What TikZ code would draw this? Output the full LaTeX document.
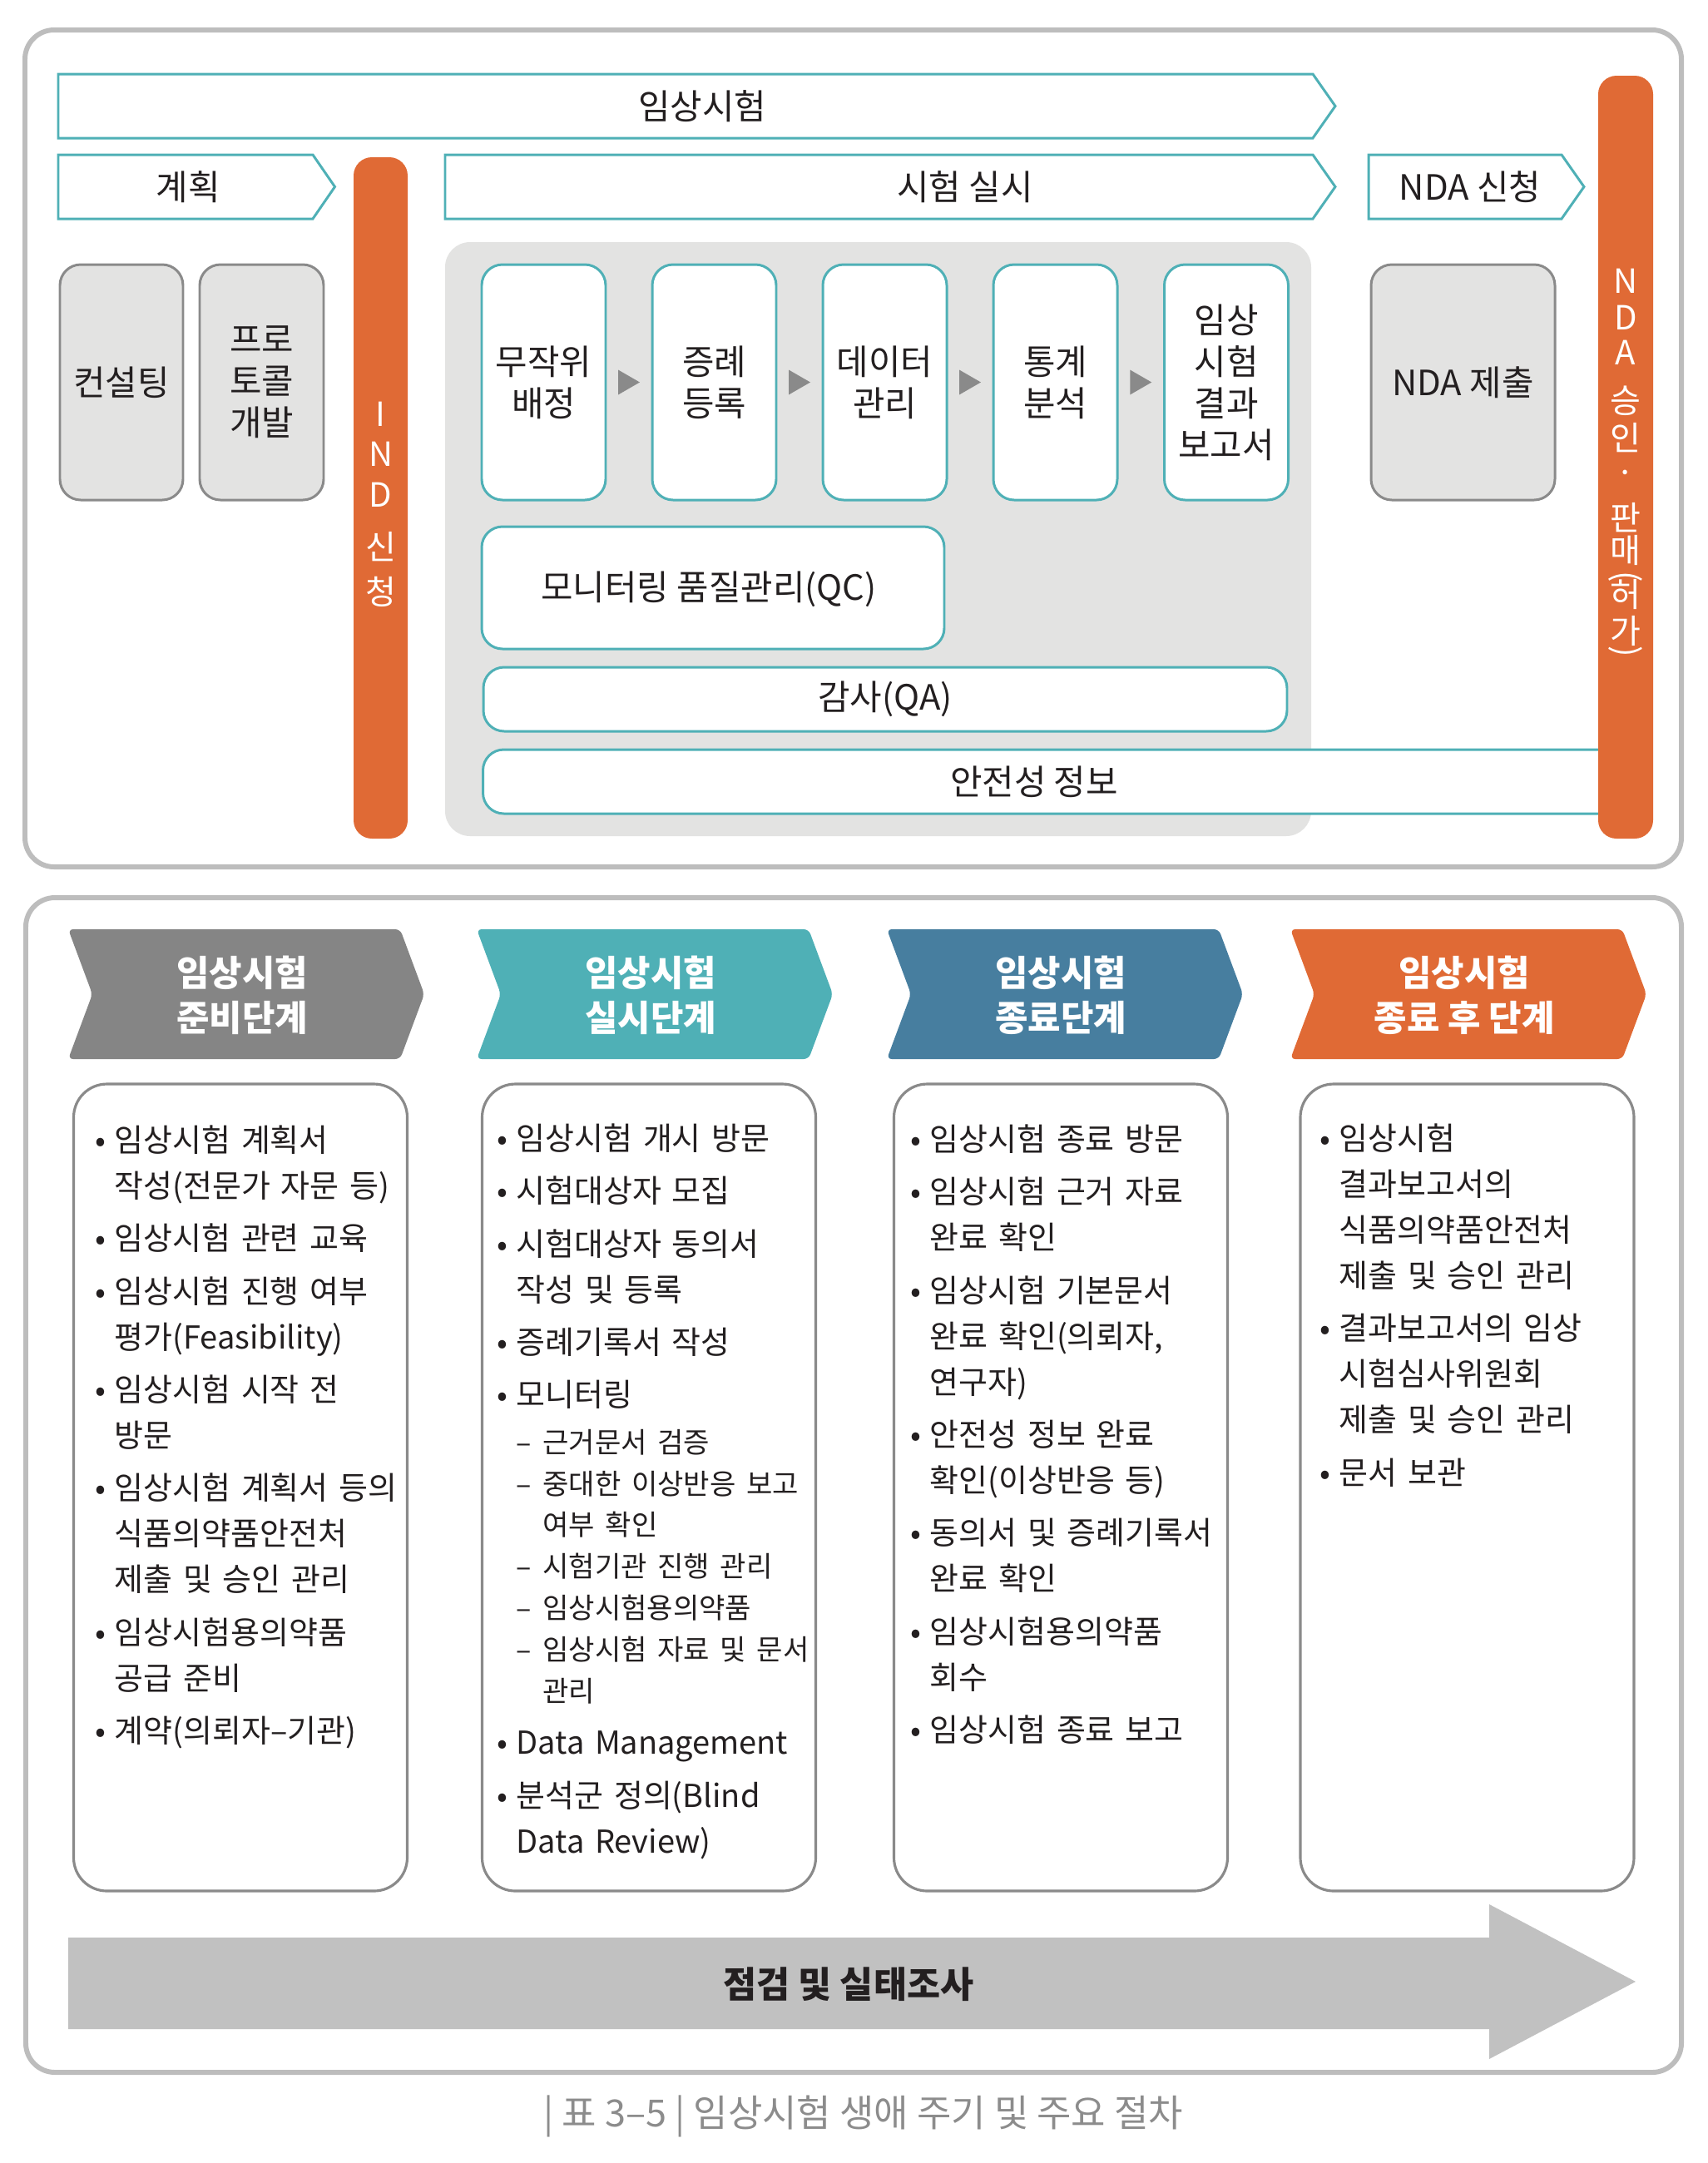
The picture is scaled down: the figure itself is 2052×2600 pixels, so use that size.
\documentclass[tikz,border=0pt]{standalone}
\usepackage{fontspec}
\setmainfont{Noto Sans CJK KR}
\usetikzlibrary{positioning}

\definecolor{tealline}{HTML}{4FB0B6}
\definecolor{orangebar}{HTML}{E06A35}
\definecolor{stepblue}{HTML}{477E9F}
\definecolor{stepgray}{HTML}{858585}
\definecolor{areagray}{HTML}{E3E3E2}
\definecolor{boxline}{HTML}{8A8A8A}
\definecolor{panelline}{HTML}{BDBDBD}
\definecolor{bigarrow}{HTML}{C1C1C1}
\definecolor{inkblack}{HTML}{231F20}
\definecolor{capgray}{HTML}{8C8C8C}

% 1 unit of the picture = 0.1 mm
\newcommand{\topfont}{\fontsize{11.9pt}{14.2pt}\selectfont}
\newcommand{\barfont}{\fontsize{11.4pt}{14pt}\selectfont}
\newcommand{\listfont}{\fontsize{10.8pt}{15.65pt}\selectfont}
\newcommand{\subfont}{\fontsize{9.7pt}{14.2pt}\selectfont}
\newcommand{\headfont}{\bfseries\fontsize{12.2pt}{15.4pt}\selectfont}
\newcommand{\itm}{\par\vspace{2.4pt}\noindent\llap{•\hspace{3pt}}}
\newcommand{\subitm}[1]{\par{\subfont\hangindent=9pt\hangafter=1\noindent\makebox[9pt][l]{–}#1\par}}

\begin{document}
\begin{tikzpicture}[
  x=0.1mm, y=-0.1mm, text=inkblack,
  panel/.style={draw=panelline, line width=1.7pt, rounded corners=3.5mm},
  flow/.style={draw=tealline, line width=0.85pt, fill=white},
  stepbox/.style={draw=tealline, line width=0.85pt, fill=white, rounded corners=2.5mm,
    align=center, font=\topfont, inner sep=0pt},
  graybox/.style={draw=boxline, line width=0.85pt, fill=areagray, rounded corners=2.5mm,
    align=center, font=\topfont, inner sep=0pt},
  bar/.style={fill=orangebar, rounded corners=2.2mm, inner sep=0pt},
  bartxt/.style={text=white, font=\barfont, inner sep=0pt},
  lbl/.style={font=\topfont, inner sep=0pt},
  head/.style={text=white, font=\headfont, align=center, inner sep=0pt},
  listbox/.style={draw=boxline, line width=0.9pt, fill=white, rounded corners=4mm,
    minimum width=40.1mm, minimum height=97mm, inner sep=0pt},
  listtxt/.style={anchor=north west, text width=45mm, font=\listfont, inner sep=0pt}
]
\useasboundingbox (0,0) rectangle (2052,2600);

% ---------------- top panel: flow of the trial ----------------------------
\draw[panel] (30,36) rectangle (2021,1042);

\draw[flow] (70,89) -- (1578,89) -- (1605,127.5) -- (1578,166) -- (70,166) -- cycle;
\node[lbl] (trial) at (844,127.5) {임상시험};
\draw[flow] (70,186) -- (376,186) -- (402.5,224.5) -- (376,263) -- (70,263) -- cycle;
\node[lbl] (plan) at (226,224.5) {계획};
\draw[flow] (535,186) -- (1578,186) -- (1605,224.5) -- (1578,263) -- (535,263) -- cycle;
\node[lbl] (run) at (1160,224.5) {시험 실시};
\draw[flow] (1645,186) -- (1877,186) -- (1904,224.5) -- (1877,263) -- (1645,263) -- cycle;
\node[lbl] (ndaapply) at (1767,224.5) {NDA 신청};

\fill[areagray, rounded corners=3mm] (535,291) rectangle (1576,1005);

\node[graybox, minimum width=14.8mm, minimum height=28.3mm] (consult) at (146,459.5) {컨설팅};
\node[graybox, minimum width=14.9mm, minimum height=28.3mm] (proto) at (314.5,459.5) {프로\\토콜\\개발};
\node[graybox, minimum width=22.1mm, minimum height=28.3mm] (ndasubmit) at (1758.5,459.5) {NDA 제출};

\foreach \name/\cx/\txt in {s1/653.5/{무작위\\배정}, s2/858.5/{증례\\등록}, s3/1063.5/{데이터\\관리},
    s4/1268.5/{통계\\분석}, s5/1474/{임상\\시험\\결과\\보고서}}
  \node[stepbox, minimum width=14.9mm, minimum height=28.3mm] (\name) at (\cx,459.5) {\txt};
\foreach \a/\b [count=\k] in {s1/s2, s2/s3, s3/s4, s4/s5}{
  \path (\a) -- coordinate[midway] (tri\k) (\b);
  \fill[boxline] ([shift={(-13,-15)}]tri\k) -- ([shift={(13,0)}]tri\k) -- ([shift={(-13,15)}]tri\k) -- cycle;
}

\node[stepbox, minimum width=55.6mm, minimum height=14.7mm] (qc) at (857,706.5) {};
\node[lbl] (qctxt) at (852,708) {모니터링 품질관리(QC)};
\node[stepbox, minimum width=96.6mm, minimum height=7.7mm] (qa) at (1064,840.5) {감사(QA)};
\node[stepbox, minimum width=137.9mm, minimum height=7.7mm] (safety) at (1270,939.5) {};
\node[lbl] (safetytxt) at (1243,940) {안전성 정보};

\node[bar, minimum width=6.5mm, minimum height=81.9mm] (ind) at (457.5,598.5) {};
\foreach \ch/\yy [count=\k] in {I/498, N/546, D/595, 신/657, 청/711}
  \node[bartxt] (indch\k) at (457.5,\yy) {\ch};

\node[bar, minimum width=6.6mm, minimum height=91.7mm] (nda) at (1954,549.5) {};
\foreach \ch/\yy [count=\k] in {N/338, D/382, A/424, 승/482, 인/526, ·/574, 판/622, 매/661, 허/714, 가/758}
  \node[bartxt] (ndach\k) at (1954,\yy) {\ch};
\node[bartxt, rotate=-90] (ndaopen) at (1954,693) {(};
\node[bartxt, rotate=-90] (ndaclose) at (1954,783) {)};

% ---------------- bottom panel: the four stages ---------------------------
\draw[panel] (31,1079) rectangle (2021,2491);

\foreach \xl/\col/\txt [count=\k] in {82/stepgray/{임상시험\\준비단계}, 573/tealline/{임상시험\\실시단계},
    1066/stepblue/{임상시험\\종료단계}, 1551/orangebar/{임상시험\\종료 후 단계}}{
  \fill[\col, rounded corners=0.6mm] (\xl,1117) -- (\xl+399,1117) -- (\xl+428,1195)
    -- (\xl+399,1273) -- (\xl,1273) -- (\xl+29,1195) -- cycle;
  \node[head] (stage\k) at (\xl+209,1196) {\txt};
}

\node[listbox] (box1) at (289,1788) {};
\node[listbox] (box2) at (780,1788) {};
\node[listbox] (box3) at (1275,1788) {};
\node[listbox] (box4) at (1763.5,1788) {};

\node[listtxt] (list1) at (137,1320) {%
  \itm 임상시험 계획서\newline 작성(전문가 자문 등)
  \itm 임상시험 관련 교육
  \itm 임상시험 진행 여부\newline 평가(Feasibility)
  \itm 임상시험 시작 전\newline 방문
  \itm 임상시험 계획서 등의\newline 식품의약품안전처\newline 제출 및 승인 관리
  \itm 임상시험용의약품\newline 공급 준비
  \itm 계약(의뢰자–기관)};

\node[listtxt] (list2) at (620,1318) {%
  \itm 임상시험 개시 방문
  \itm 시험대상자 모집
  \itm 시험대상자 동의서\newline 작성 및 등록
  \itm 증례기록서 작성
  \itm 모니터링\par\vspace{1.5pt}
  \subitm{근거문서 검증}
  \subitm{중대한 이상반응 보고\newline 여부 확인}
  \subitm{시험기관 진행 관리}
  \subitm{임상시험용의약품}
  \subitm{임상시험 자료 및 문서\newline 관리}
  \itm Data Management
  \itm 분석군 정의(Blind\newline Data Review)};

\node[listtxt] (list3) at (1117,1319) {%
  \itm 임상시험 종료 방문
  \itm 임상시험 근거 자료\newline 완료 확인
  \itm 임상시험 기본문서\newline 완료 확인(의뢰자,\newline 연구자)
  \itm 안전성 정보 완료\newline 확인(이상반응 등)
  \itm 동의서 및 증례기록서\newline 완료 확인
  \itm 임상시험용의약품\newline 회수
  \itm 임상시험 종료 보고};

\node[listtxt] (list4) at (1609,1318) {%
  \itm 임상시험\newline 결과보고서의\newline 식품의약품안전처\newline 제출 및 승인 관리
  \itm 결과보고서의 임상\newline 시험심사위원회\newline 제출 및 승인 관리
  \itm 문서 보관};

\fill[bigarrow] (82,2329) -- (1790,2329) -- (1790,2289) -- (1966,2382) -- (1790,2475)
  -- (1790,2439) -- (82,2439) -- cycle;
\node[font=\bfseries\fontsize{12.4pt}{14pt}\selectfont, inner sep=0pt] (audit) at (1020,2385) {점검 및 실태조사};

\node[font=\fontsize{12.8pt}{14pt}\selectfont, text=capgray, inner sep=0pt] (caption) at (1038,2544)
  {|\ 표 3–5\ |\ 임상시험 생애 주기 및 주요 절차};
\end{tikzpicture}
\end{document}
